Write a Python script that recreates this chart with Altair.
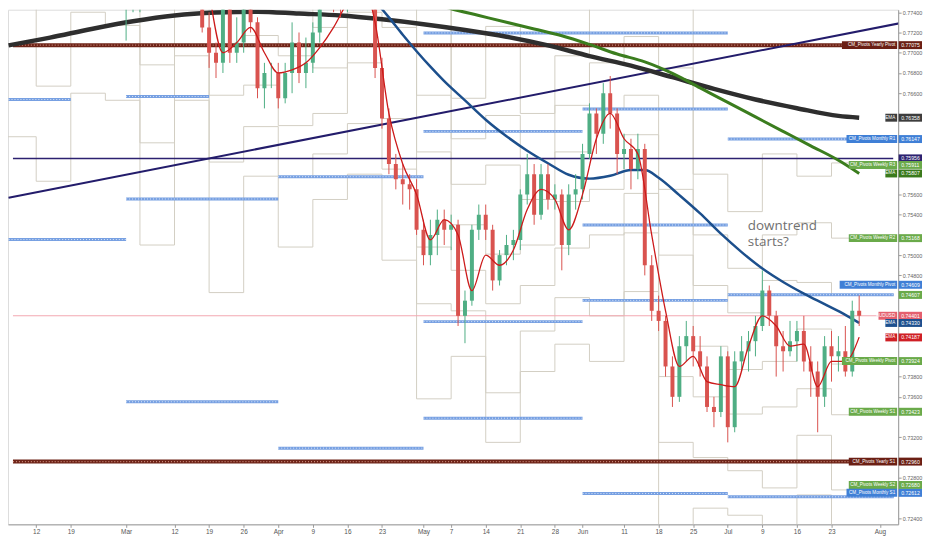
import altair as alt
import pandas as pd

# ---------------- data ----------------
# trading-day index: 0 = Mon 12 Feb 2018 ; 122 = Wed 1 Aug 2018
first_day = -3
opens = [0.7870,0.7845,0.7815,0.7830,0.7860,0.7880,0.7925,0.7960,0.7920,0.7900,0.7850,0.7815,0.7845,
         0.7850,0.7865,0.7795,0.7760,0.7765,0.7765,0.7770,0.7830,0.7835,0.7805,0.7850,0.7865,0.7890,
         0.7880,0.7845,0.7725,0.7700,0.7690,0.7750,0.7700,0.7710,0.7745,0.7730,0.7665,0.7680,0.7680,
         0.7655,0.7680,0.7710,0.7680,0.7690,0.7720,0.7760,0.7770,0.7755,0.7750,0.7770,0.7775,0.7795,
         0.7755,0.7685,0.7635,0.7590,0.7575,0.7570,0.7565,0.7525,0.7500,0.7520,0.7535,0.7525,0.7530,
         0.7440,0.7455,0.7525,0.7540,0.7525,0.7475,0.7500,0.7510,0.7515,0.7560,0.7580,0.7540,0.7580,
         0.7555,0.7560,0.7510,0.7560,0.7565,0.7600,0.7640,0.7620,0.7660,0.7640,0.7600,0.7605,0.7585,
         0.7605,0.7490,0.7445,0.7435,0.7390,0.7360,0.7410,0.7420,0.7405,0.7390,0.7350,0.7345,0.7400,
         0.7330,0.7395,0.7405,0.7415,0.7430,0.7465,0.7440,0.7410,0.7405,0.7415,0.7425,0.7395,0.7385,
         0.7360,0.7410,0.7400,0.7405,0.7385,0.7445]
highs = [0.7905,0.7855,0.7840,0.7875,0.7895,0.7935,0.7990,0.7985,0.7935,0.7910,0.7880,0.7860,0.7860,
         0.7890,0.7875,0.7805,0.7790,0.7790,0.7785,0.7840,0.7845,0.7845,0.7860,0.7875,0.7915,0.7905,
         0.7890,0.7850,0.7740,0.7710,0.7765,0.7760,0.7735,0.7760,0.7765,0.7735,0.7690,0.7690,0.7690,
         0.7690,0.7730,0.7720,0.7715,0.7730,0.7770,0.7790,0.7780,0.7770,0.7780,0.7790,0.7815,0.7805,
         0.7760,0.7695,0.7645,0.7600,0.7590,0.7580,0.7575,0.7535,0.7535,0.7545,0.7545,0.7540,0.7535,
         0.7465,0.7530,0.7550,0.7550,0.7530,0.7505,0.7520,0.7525,0.7565,0.7600,0.7590,0.7590,0.7590,
         0.7570,0.7565,0.7570,0.7580,0.7610,0.7650,0.7645,0.7670,0.7677,0.7645,0.7620,0.7615,0.7620,
         0.7610,0.7500,0.7460,0.7440,0.7400,0.7420,0.7435,0.7430,0.7420,0.7400,0.7360,0.7410,0.7405,
         0.7405,0.7420,0.7425,0.7440,0.7485,0.7470,0.7445,0.7425,0.7435,0.7435,0.7440,0.7410,0.7395,
         0.7420,0.7425,0.7420,0.7430,0.7455,0.7460]
lows = [0.7835,0.7790,0.7760,0.7820,0.7840,0.7860,0.7915,0.7905,0.7880,0.7840,0.7800,0.7800,0.7825,
        0.7835,0.7790,0.7745,0.7712,0.7740,0.7740,0.7760,0.7795,0.7780,0.7790,0.7835,0.7855,0.7865,
        0.7840,0.7720,0.7685,0.7675,0.7680,0.7690,0.7690,0.7700,0.7720,0.7655,0.7645,0.7665,0.7645,
        0.7650,0.7660,0.7670,0.7665,0.7680,0.7710,0.7745,0.7740,0.7735,0.7740,0.7750,0.7765,0.7745,
        0.7675,0.7625,0.7580,0.7565,0.7550,0.7545,0.7520,0.7490,0.7490,0.7500,0.7510,0.7505,0.7430,
        0.7413,0.7450,0.7515,0.7515,0.7465,0.7470,0.7490,0.7495,0.7505,0.7550,0.7530,0.7535,0.7545,
        0.7545,0.7485,0.7500,0.7545,0.7555,0.7595,0.7600,0.7610,0.7625,0.7580,0.7585,0.7565,0.7575,
        0.7480,0.7435,0.7425,0.7380,0.7350,0.7355,0.7395,0.7390,0.7380,0.7345,0.7330,0.7340,0.7315,
        0.7325,0.7385,0.7385,0.7400,0.7425,0.7430,0.7380,0.7385,0.7400,0.7395,0.7385,0.7360,0.7325,
        0.7350,0.7375,0.7385,0.7380,0.7380,0.7430]
closes = [0.7845,0.7815,0.7830,0.7860,0.7880,0.7925,0.7960,0.7920,0.7900,0.7850,0.7815,0.7845,0.7850,
          0.7865,0.7795,0.7760,0.7765,0.7765,0.7770,0.7830,0.7835,0.7805,0.7850,0.7865,0.7890,0.7880,
          0.7845,0.7725,0.7700,0.7690,0.7750,0.7700,0.7710,0.7745,0.7730,0.7665,0.7680,0.7680,0.7655,
          0.7680,0.7710,0.7680,0.7690,0.7720,0.7760,0.7770,0.7755,0.7750,0.7770,0.7775,0.7795,0.7755,
          0.7685,0.7635,0.7590,0.7575,0.7570,0.7565,0.7525,0.7500,0.7520,0.7535,0.7525,0.7530,0.7440,
          0.7455,0.7525,0.7540,0.7525,0.7475,0.7500,0.7510,0.7515,0.7560,0.7580,0.7540,0.7580,0.7555,
          0.7560,0.7510,0.7560,0.7565,0.7600,0.7640,0.7620,0.7660,0.7640,0.7600,0.7605,0.7585,0.7605,
          0.7490,0.7445,0.7435,0.7390,0.7360,0.7410,0.7420,0.7405,0.7390,0.7350,0.7345,0.7400,0.7330,
          0.7395,0.7405,0.7415,0.7430,0.7465,0.7440,0.7410,0.7405,0.7415,0.7425,0.7395,0.7385,0.7360,
          0.7410,0.7400,0.7405,0.7385,0.7445,0.7440]

ema_red_day = [-3,-1,1,3,5,7,9,11,13,15,17,19,21,23,25,27,29,31,33,35,37,39,41,43,45,47,49,51,53,55,
               57,59,61,63,65,67,69,71,73,75,77,79,81,83,85,87,89,91,93,95,97,99,101,103,105,107,109,
               111,113,115,117,119]
ema_red_val = [0.7870,0.7845,0.7850,0.7890,0.7910,0.7875,0.7850,0.7840,0.7795,0.7775,0.7800,0.7815,
               0.7850,0.7860,0.7760,0.7700,0.7710,0.7725,0.7700,0.7680,0.7683,0.7690,0.7705,0.7725,
               0.7750,0.7770,0.7730,0.7640,0.7590,0.7560,0.7515,0.7535,0.7520,0.7465,0.7500,0.7490,
               0.7505,0.7545,0.7565,0.7555,0.7525,0.7560,0.7615,0.7640,0.7615,0.7600,0.7520,0.7445,
               0.7390,0.7400,0.7375,0.7372,0.7370,0.7410,0.7440,0.7430,0.7410,0.7412,0.7370,0.7395,
               0.7395,0.7419]

ema_blue_day = [49,51,53,55,57,59,62,65,68,71,74,77,80,83,86,88,90,93,96,99,102,105,108,111,114,117,119]
ema_blue_val = [0.77511,0.77349,0.77177,0.77015,0.76862,0.76719,0.76529,0.76338,0.76175,0.76032,
                0.75908,0.75794,0.75756,0.75784,0.75842,0.75842,0.75765,0.75593,0.75412,0.75212,
                0.75030,0.74868,0.74735,0.74620,0.74515,0.74410,0.74330]

ema_green_day = [56,60,64,68,72,76,80,84,88,92,96,100,104,108,112,116,119]
ema_green_val = [0.77521,0.77435,0.77368,0.77301,0.77235,0.77168,0.77082,0.76987,0.76910,0.76796,
                 0.76653,0.76509,0.76366,0.76223,0.76080,0.75937,0.75807]

ema_black_day = [-4,2,8,14,20,26,32,38,44,50,56,62,68,74,80,86,92,98,104,110,116,119]
ema_black_val = [0.77073,0.77149,0.77235,0.77311,0.77368,0.77397,0.77406,0.77387,0.77368,0.77330,
                 0.77282,0.77225,0.77158,0.77072,0.76967,0.76872,0.76758,0.76643,0.76538,0.76452,
                 0.76376,0.76358]

trend_day = [-4, 127]
trend_val = [0.75568, 0.77320]

h_level = 0.75956          # horizontal drawn line
last_price = 0.74401
yearly_levels = [0.77075, 0.72960]

# monthly pivot segments (CM_Pivots monthly): start day, end day, level
m_start = [-4, -4, 13, 13, 13, 35, 35, 35, 56, 56, 56, 56, 79, 79, 79, 79, 100, 100, 100]
m_end   = [ 5, 13, 25, 35, 35, 56, 56, 56, 100, 79, 79, 79, 100, 100, 100, 100, 124, 124, 124]
m_level = [0.76538, 0.75154, 0.76567, 0.75555, 0.73551, 0.77445, 0.75775, 0.73093,
           0.77196, 0.76223, 0.74343, 0.73389, 0.76443, 0.75298, 0.74553, 0.72645,
           0.76147, 0.74609, 0.72612]

# weekly pivot levels (CM_Pivots weekly), one value per week starting at week_start
week_start = [-5, 0, 5, 10, 15, 20, 25, 30, 35, 40, 45, 50, 55, 60, 65, 70, 75, 80, 85, 90, 95, 100,
              105, 110, 115]
wk_P  = [0.7988,0.7842,0.7910,0.7862,0.7789,0.7817,0.7787,0.7717,0.7697,0.7685,0.7740,0.7725,0.7602,
         0.7530,0.7501,0.7510,0.7553,0.7565,0.7619,0.7500,0.7410,0.7387,0.7395,0.7427,0.73924]
wk_R1 = [0.8066,0.7923,0.8000,0.7923,0.7866,0.7893,0.7853,0.7758,0.7748,0.7725,0.7800,0.7775,0.7658,
         0.7570,0.7589,0.7555,0.7602,0.7645,0.7658,0.7565,0.7470,0.7443,0.7475,0.7473,0.74607]
wk_R2 = [0.8213,0.8017,0.8080,0.7997,0.7967,0.7937,0.7982,0.7807,0.7817,0.7770,0.7850,0.7865,0.7752,
         0.7615,0.7638,0.7595,0.7648,0.7690,0.7716,0.7685,0.7520,0.7487,0.7520,0.7532,0.75168]
wk_R3 = [0.8291,0.8098,0.8170,0.8058,0.8046,0.8013,0.8048,0.7848,0.7868,0.7810,0.7910,0.7915,0.7808,
         0.7655,0.7726,0.7640,0.7697,0.7770,0.7755,0.7750,0.7580,0.7543,0.7600,0.7578,0.75911]
wk_S1 = [0.7842,0.7748,0.7830,0.7788,0.7688,0.7773,0.7658,0.7668,0.7628,0.7640,0.7690,0.7635,0.7508,
         0.7485,0.7452,0.7470,0.7507,0.7520,0.7561,0.7380,0.7360,0.7343,0.7350,0.7368,0.73423]
wk_S2 = [0.7763,0.7667,0.7740,0.7727,0.7611,0.7697,0.7592,0.7627,0.7577,0.7600,0.7630,0.7585,0.7452,
         0.7445,0.7364,0.7425,0.7458,0.7440,0.7522,0.7315,0.7300,0.7287,0.7270,0.7322,0.72680]
wk_S3 = [0.7617,0.7573,0.7660,0.7653,0.7510,0.7653,0.7463,0.7578,0.7508,0.7555,0.7580,0.7495,0.7358,
         0.7400,0.7315,0.7385,0.7412,0.7395,0.7464,0.7195,0.7250,0.7243,0.7225,0.7263,0.72180]
week_last_end = 124

# right-hand price labels
lab_name = ["CM_Pivots Yearly Pivot", "EMA", "CM_Pivots Monthly R1", "", "CM_Pivots Weekly R3", "EMA",
            "CM_Pivots Weekly R2", "CM_Pivots Monthly Pivot", "", "AUDUSD", "EMA", "EMA",
            "CM_Pivots Weekly Pivot", "CM_Pivots Weekly S1", "CM_Pivots Yearly S1",
            "CM_Pivots Weekly S2", "CM_Pivots Monthly S1"]
lab_value = [0.77075, 0.76358, 0.76147, 0.75956, 0.75911, 0.75807, 0.75168, 0.74609, 0.74607,
             0.74401, 0.74330, 0.74187, 0.73924, 0.73423, 0.72960, 0.72680, 0.72612]
lab_color = ["#6b1f14", "#3d3d3d", "#3f7fd6", "#2c2170", "#6aaa4a", "#3a7a1c", "#6aaa4a", "#3f7fd6",
             "#6aaa4a", "#e45f6e", "#1d4f8e", "#cf1f25", "#6aaa4a", "#6aaa4a", "#6b1f14", "#6aaa4a",
             "#3f7fd6"]
lab_shift = [0, 0, 0, 0, 2, 0, 0, -10, 0, 0, 0, 0, -3, -3, 0, -5, -4]

tick_day = [0, 5, 13, 20, 25, 30, 35, 40, 45, 50, 56, 60, 65, 70, 75, 79, 85, 90, 95, 100, 105, 110, 115, 122]
tick_text = ["12", "19", "Mar", "12", "19", "26", "Apr", "9", "16", "23", "May", "7", "14", "21", "28",
             "Jun", "11", "18", "25", "Jul", "9", "16", "23", "Aug"]
price_ticks = [0.724, 0.726, 0.728, 0.730, 0.732, 0.734, 0.736, 0.738, 0.740, 0.742, 0.744, 0.746,
               0.748, 0.750, 0.752, 0.754, 0.756, 0.758, 0.760, 0.762, 0.764, 0.766, 0.768, 0.770,
               0.772, 0.774]

note_day = [102.9, 102.9]
note_val = [0.75290, 0.75125]
note_text = ["downtrend", "starts?"]

# ---------------- layout ----------------
W, H = 896, 518
RP = 26
X0, X1 = -3.36, 123.92
Y0, Y1 = 0.7234, 0.77425
PXV = H / (Y1 - Y0)
FONT = "Liberation Sans"
xs = alt.Scale(domain=[X0, X1], nice=False, zero=False)
ys = alt.Scale(domain=[Y0, Y1], nice=False, zero=False)

# tick labels hidden where a coloured price label covers them
label_centres = [v - s / PXV for v, s in zip(lab_value, lab_shift)]
shown_ticks = [t for t in price_ticks if all(abs(t - c) * PXV > 6 for c in label_centres)]

label_expr = ("[" + ",".join(f"'{t}'" for t in tick_text) + "][indexof([" +
              ",".join(str(t) for t in tick_day) + "], datum.value)]")
x_axis = alt.Axis(values=tick_day, labelExpr=label_expr, grid=False, domainColor="#9a9a9a",
                  tickColor="#9a9a9a", tickSize=3, labelFontSize=6.5, labelColor="#555",
                  labelFont=FONT, labelPadding=1, title=None, labelFlush=False, labelOverlap=False)
y_axis = alt.Axis(orient="right", values=shown_ticks, format=".5f", grid=False,
                  domainColor="#9a9a9a", tickColor="#9a9a9a", tickSize=3, labelFontSize=5.5,
                  labelColor="#666", labelFont=FONT, labelPadding=1, title=None, labelOverlap=False)


def X(f="d"):
    return alt.X(f"{f}:Q", scale=xs, axis=x_axis)


def Y(f="v"):
    return alt.Y(f"{f}:Q", scale=ys, axis=y_axis)


n = len(closes)
cd = pd.DataFrame({"d": [first_day + k for k in range(n)], "o": opens, "h": highs,
                   "l": lows, "c": closes})
cd["up"] = cd["c"] >= cd["o"]
ccol = alt.condition("datum.up", alt.value("#4fae84"), alt.value("#d9534f"))

# weekly pivot step lines
wrows = []
for name, vals in [("P", wk_P), ("R1", wk_R1), ("R2", wk_R2), ("R3", wk_R3),
                   ("S1", wk_S1), ("S2", wk_S2), ("S3", wk_S3)]:
    for s, v in zip(week_start, vals):
        wrows.append({"lvl": name, "d": s, "v": v})
    wrows.append({"lvl": name, "d": week_last_end, "v": vals[-1]})
wdf = pd.DataFrame(wrows)
weekly = alt.Chart(wdf).mark_line(strokeWidth=1, color="#d3cfc4", interpolate="step-after",
                                  clip=True).encode(x=X(), y=Y(), detail="lvl:N")

# monthly pivot segments
md = pd.DataFrame({"d": m_start, "d2": m_end, "v": m_level})
monthly = alt.Chart(md).mark_rule(strokeWidth=3, color="#77a0e2", clip=True).encode(
    x=X("d"), x2="d2", y=Y("v"))
monthly_dots = alt.Chart(md).mark_rule(strokeWidth=1, color="#dbe7f9", strokeDash=[1, 2], clip=True).encode(
    x=X("d"), x2="d2", y=Y("v"))

yd = pd.DataFrame({"d": [X0] * 2, "d2": [X1] * 2, "v": yearly_levels})
yearly = alt.Chart(yd).mark_rule(strokeWidth=4, color="#6e2418", clip=True).encode(
    x=X("d"), x2="d2", y=Y("v"))
yearly_dots = alt.Chart(yd).mark_rule(strokeWidth=1.4, color="#c9897a", strokeDash=[1, 2], clip=True).encode(
    x=X("d"), x2="d2", y=Y("v"))

hd = pd.DataFrame({"d": [X0], "d2": [X1], "v": [h_level]})
hline = alt.Chart(hd).mark_rule(strokeWidth=1.5, color="#2c2170", clip=True).encode(
    x=X("d"), x2="d2", y=Y("v"))
pdf = pd.DataFrame({"d": [X0], "d2": [X1], "v": [last_price]})
pline = alt.Chart(pdf).mark_rule(strokeWidth=1, color="#f3a7b0", clip=True).encode(
    x=X("d"), x2="d2", y=Y("v"))

td = pd.DataFrame({"d": trend_day, "v": trend_val})
trend = alt.Chart(td).mark_line(strokeWidth=2, color="#231c6b", clip=True).encode(x=X(), y=Y())


def ema(days, vals, color, width):
    df = pd.DataFrame({"d": days, "v": vals})
    return alt.Chart(df).mark_line(strokeWidth=width, color=color, interpolate="monotone",
                                   clip=True).encode(x=X(), y=Y())


black = ema(ema_black_day, ema_black_val, "#2e2e2e", 4.5)
green = ema(ema_green_day, ema_green_val, "#3b7d1e", 3)
blue = ema(ema_blue_day, ema_blue_val, "#1c4f8c", 2.5)
red = ema(ema_red_day, ema_red_val, "#cc1a1a", 1.3)

wick = alt.Chart(cd).mark_rule(strokeWidth=1, clip=True).encode(
    x=X("d"), y=Y("l"), y2="h", color=ccol)
body = alt.Chart(cd).mark_bar(size=4, clip=True).encode(
    x=X("d"), y=Y("o"), y2="c", color=ccol)

nd = pd.DataFrame({"d": note_day, "v": note_val, "t": note_text})
note = alt.Chart(nd).mark_text(align="left", baseline="middle", fontSize=13.5, font="Open Sans",
                               color="#707070").encode(x=X(), y=Y(), text="t:N")

# right-hand labels
BOX = 8.0 / PXV
rows = []
for nm, val, colr, c in zip(lab_name, lab_value, lab_color, label_centres):
    rows.append({"name": nm, "val": f"{val:.5f}", "col": colr, "yc": c,
                 "y1": c - BOX / 2, "y2": c + BOX / 2,
                 "nx": W - 2 - len(nm) * 2.3 - 4})
ld = pd.DataFrame(rows)
vbox = alt.Chart(ld).mark_rect().encode(
    x=alt.value(W + 0.5), x2=alt.value(W + RP - 2), y=Y("y1"), y2="y2",
    color=alt.Color("col:N", scale=None))
vtxt = alt.Chart(ld).mark_text(align="left", baseline="middle", fontSize=5.2, font=FONT,
                               color="white").encode(
    x=alt.value(W + 3), y=Y("yc"), text="val:N")
nld = ld[ld["name"] != ""]
nbox = alt.Chart(nld).mark_rect().encode(
    x=alt.X("nx:Q", scale=None), x2=alt.value(W - 1), y=Y("y1"), y2="y2",
    color=alt.Color("col:N", scale=None))
ntxt = alt.Chart(nld).mark_text(align="right", baseline="middle", fontSize=4.6, font=FONT,
                                color="white").encode(
    x=alt.value(W - 3), y=Y("yc"), text="name:N")

chart = alt.layer(
    weekly, monthly, monthly_dots, yearly, yearly_dots, pline, hline, trend,
    black, green, blue, wick, body, red, note, vbox, vtxt, nbox, ntxt
).properties(
    width=W, height=H,
    autosize=alt.AutoSizeParams(type="none"),
    padding={"left": 0, "top": 0, "right": RP, "bottom": 10},
).configure_view(strokeWidth=0).configure(background="white")

chart.save("out.html", embed_options={"renderer": "svg", "actions": False})
